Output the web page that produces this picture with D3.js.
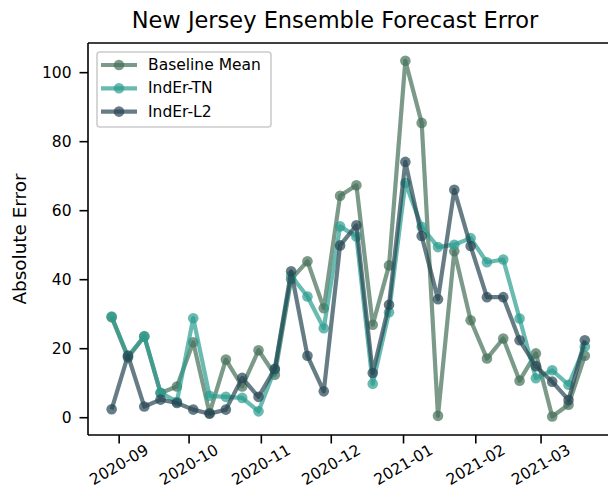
<!DOCTYPE html>
<html><head><meta charset="utf-8">
<script src="https://cdn.jsdelivr.net/npm/d3@7"></script>
<style>body{margin:0;background:#fff}svg{display:block}</style>
</head><body>
<svg id="c" width="608" height="501"></svg>
<script>
const dates = ["2020-08-29","2020-09-05","2020-09-12","2020-09-19","2020-09-26","2020-10-03","2020-10-10","2020-10-17","2020-10-24","2020-10-31","2020-11-07","2020-11-14","2020-11-21","2020-11-28","2020-12-05","2020-12-12","2020-12-19","2020-12-26","2021-01-02","2021-01-09","2021-01-16","2021-01-23","2021-01-30","2021-02-06","2021-02-13","2021-02-20","2021-02-27","2021-03-06","2021-03-13","2021-03-20"];
const baselineMean = [29.0,17.3,23.4,7.0,8.9,21.7,1.2,16.7,8.9,19.4,12.3,40.0,45.2,31.6,64.2,67.2,26.8,44.0,103.3,85.3,0.4,48.1,28.1,17.0,22.8,10.6,18.5,0.2,3.6,17.8];
const inderTN = [29.2,17.6,23.5,7.1,4.5,28.7,6.2,5.9,5.6,1.7,13.8,41.0,35.0,25.8,55.3,52.4,9.7,30.4,67.9,55.2,49.3,50.0,51.9,44.9,45.7,28.6,11.3,13.6,9.4,20.5];
const inderL2 = [2.3,17.9,3.1,5.1,4.1,2.2,1.0,2.2,11.4,5.9,14.0,42.3,17.8,7.5,49.8,55.6,12.8,32.6,74.0,52.5,34.2,65.9,49.6,34.8,34.8,22.3,14.8,10.3,5.0,22.3];
const seriesNames = ["Baseline Mean","IndEr-TN","IndEr-L2"];
const seriesColors = ["#456f59","#2a9d8f","#264653"];
const yTicks = [0,20,40,60,80,100];
const xTickLabels = ["2020-09","2020-10","2020-11","2020-12","2021-01","2021-02","2021-03"];
const titleText = "New Jersey Ensemble Forecast Error";
const yLabel = "Absolute Error";

const parse = d3.utcParse("%Y-%m-%d");
const parseM = d3.utcParse("%Y-%m");
const xs = dates.map(parse);
const allSeries = [baselineMean, inderTN, inderL2];

const L = 88, R = 608.5, T = 43, B = 435;
const svg = d3.select("#c");
const font = "DejaVu Sans, sans-serif";

const t0 = +xs[0], t1 = +xs[xs.length-1], span = t1 - t0;
const x = d3.scaleUtc().domain([new Date(t0 - 0.05*span), new Date(t1 + 0.05*span)]).range([L, R]);
const allV = allSeries.flat();
const vmin = d3.min(allV), vmax = d3.max(allV), vr = vmax - vmin;
const y = d3.scaleLinear().domain([vmin - 0.05*vr - 0.2, vmax + 0.05*vr]).range([B, T]);

// series
allSeries.forEach((vals, si) => {
  const g = svg.append("g");
  const line = d3.line().x((d,i)=>x(xs[i])).y(d=>y(d));
  g.append("path").datum(vals).attr("d", line)
    .attr("fill","none").attr("stroke", seriesColors[si]).attr("stroke-opacity",0.7)
    .attr("stroke-width",4.2).attr("stroke-linejoin","round").attr("stroke-linecap","butt");
  g.selectAll("circle").data(vals).join("circle")
    .attr("cx",(d,i)=>x(xs[i])).attr("cy",d=>y(d)).attr("r",5.3)
    .attr("fill", seriesColors[si]).attr("fill-opacity",0.7);
});

// frame (left, bottom, top)
const frame = svg.append("g").attr("stroke","#000").attr("stroke-width",1.6).attr("fill","none");
frame.append("line").attr("x1",L).attr("x2",L).attr("y1",T).attr("y2",B);
frame.append("line").attr("x1",L).attr("x2",R).attr("y1",B).attr("y2",B);
frame.append("line").attr("x1",L).attr("x2",R).attr("y1",T).attr("y2",T);

// y axis
const yAxis = d3.axisLeft(y).tickValues(yTicks).tickSize(8.5).tickPadding(8).tickFormat(d3.format("d"));
const ya = svg.append("g").attr("transform",`translate(${L},0)`).call(yAxis);
ya.select(".domain").remove();
ya.selectAll("line").attr("stroke","#000").attr("stroke-width",1.6);
ya.selectAll("text").attr("font-family",font).attr("font-size",15.5).attr("fill","#000");

// x axis
const xTickDates = xTickLabels.map(parseM);
const xAxis = d3.axisBottom(x).tickValues(xTickDates).tickSize(8.5).tickPadding(4).tickFormat(d3.utcFormat("%Y-%m"));
const xa = svg.append("g").attr("transform",`translate(0,${B})`).call(xAxis);
xa.select(".domain").remove();
xa.selectAll("line").attr("stroke","#000").attr("stroke-width",1.6);
xa.selectAll("text").attr("font-family",font).attr("font-size",15.5).attr("fill","#000")
  .attr("text-anchor","middle").attr("dy",null).attr("y",null)
  .attr("transform","translate(0,30) rotate(-30)").attr("dominant-baseline","central");

// title
svg.append("text").attr("x",335).attr("y",28).attr("text-anchor","middle")
  .attr("font-family",font).attr("font-size",22.5).attr("fill","#000").text(titleText);
// y label
svg.append("text").attr("transform",`translate(26,${(T+B)/2}) rotate(-90)`).attr("text-anchor","middle")
  .attr("font-family",font).attr("font-size",18.4).attr("fill","#000").text(yLabel);

// legend
const lg = svg.append("g");
lg.append("rect").attr("x",97).attr("y",52).attr("width",174).attr("height",75).attr("rx",3)
  .attr("fill","#fff").attr("fill-opacity",0.8).attr("stroke","#cccccc").attr("stroke-width",1.6);
seriesNames.forEach((n,i)=>{
  const yy = 65 + i*23.3;
  lg.append("line").attr("x1",101).attr("x2",137).attr("y1",yy).attr("y2",yy)
    .attr("stroke",seriesColors[i]).attr("stroke-opacity",0.7).attr("stroke-width",4.2);
  lg.append("circle").attr("cx",119).attr("cy",yy).attr("r",5.3).attr("fill",seriesColors[i]).attr("fill-opacity",0.7);
  lg.append("text").attr("x",148).attr("y",yy).attr("dominant-baseline","central")
    .attr("font-family",font).attr("font-size",15.5).attr("fill","#000").text(n);
});
</script>
</body></html>
